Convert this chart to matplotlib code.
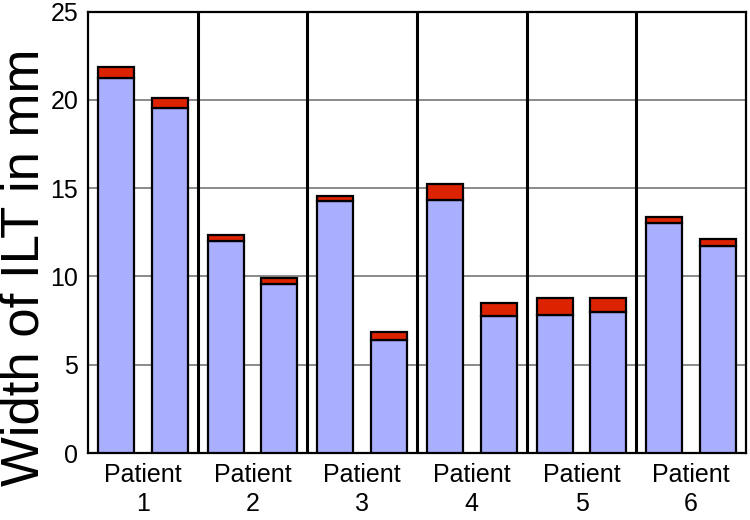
import matplotlib
matplotlib.use("Agg")
import matplotlib.pyplot as plt
import numpy as np

plt.rcParams['font.family'] = ['Liberation Sans', 'DejaVu Sans']

patients = ["Patient\n1", "Patient\n2", "Patient\n3", "Patient\n4", "Patient\n5", "Patient\n6"]
# two bars per patient: base (blue) and top segment (red)
base_a = [21.26, 12.03, 14.29, 14.35, 7.80, 13.01]
top_a = [0.60, 0.29, 0.29, 0.89, 1.00, 0.38]
base_b = [19.53, 9.55, 6.38, 7.74, 7.98, 11.73]
top_b = [0.57, 0.38, 0.49, 0.77, 0.78, 0.37]
yticks = [0, 5, 10, 15, 20, 25]

blue = "#A9AEFD"
red = "#DD2200"

fig = plt.figure(figsize=(7.5, 5.2), dpi=100)
ax = fig.add_axes([0.1173, 0.1288, 0.8774, 0.849])

n = len(patients)
centers = np.arange(n) + 0.5
w = 0.33
off = 0.245
for xs, base, top in [(centers - off, base_a, top_a), (centers + off, base_b, top_b)]:
    ax.bar(xs, base, width=w, color=blue, edgecolor="black", linewidth=1.6, zorder=3)
    ax.bar(xs, top, bottom=base, width=w, color=red, edgecolor="black", linewidth=1.6, zorder=3)

ax.set_xlim(0, n)
ax.set_ylim(0, 25)
ax.set_yticks(yticks)
ax.set_yticklabels([str(t) for t in yticks], fontsize=18)
ax.set_xticks(centers)
ax.set_xticklabels(patients, fontsize=18, linespacing=1.3)
ax.tick_params(axis='y', length=0, pad=7)
ax.tick_params(axis='x', length=0, pad=7)

for y in yticks[1:-1]:
    ax.axhline(y, color="#777777", linewidth=1.2, zorder=1)
for x in range(1, n):
    ax.axvline(x, color="black", linewidth=2.2, zorder=2)

for s in ax.spines.values():
    s.set_linewidth(1.6)
    s.set_color("black")

ax.set_ylabel("Width of ILT in mm", fontsize=38)
ax.yaxis.set_label_coords(-0.058, 0.42)

fig.savefig("out.png", dpi=100)
